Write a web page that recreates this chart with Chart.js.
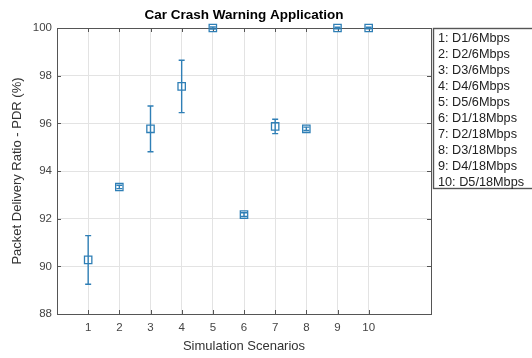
<!DOCTYPE html>
<html>
<head>
<meta charset="utf-8">
<script src="https://cdn.jsdelivr.net/npm/chart.js@4"></script>
<style>
  html, body { margin: 0; padding: 0; background: #fff; }
  #wrap { width: 532px; height: 358px; }
</style>
</head>
<body>
<div id="wrap"><canvas id="pdrChart" width="532" height="358"></canvas></div>
<script>
// data
const scenarios = [1, 2, 3, 4, 5, 6, 7, 8, 9, 10];
const pdrMean = [90.27, 93.33, 95.77, 97.55, 100, 92.17, 95.87, 95.77, 100, 100];
const pdrErr = [1.02, 0.07, 0.96, 1.1, 0.04, 0.08, 0.3, 0.07, 0.03, 0.03];
const legendLabels = ['1: D1/6Mbps', '2: D2/6Mbps', '3: D3/6Mbps', '4: D4/6Mbps', '5: D5/6Mbps',
  '6: D1/18Mbps', '7: D2/18Mbps', '8: D3/18Mbps', '9: D4/18Mbps', '10: D5/18Mbps'];
const yTicks = [88, 90, 92, 94, 96, 98, 100];

const blue = '#2f7fb6';
const font = "'Liberation Sans', Arial, sans-serif";

// error bars, axes box, title and the text legend
const extras = {
  id: 'extras',
  beforeDatasetsDraw(chart) {
    const ctx = chart.ctx, x = chart.scales.x, y = chart.scales.y, a = chart.chartArea;
    ctx.save();
    // box
    ctx.strokeStyle = '#555';
    ctx.lineWidth = 1;
    ctx.strokeRect(a.left + 0.5, a.top + 0.5, a.right - a.left, a.bottom - a.top);
    ctx.beginPath();
    scenarios.forEach(s => {
      const px = Math.round(x.getPixelForValue(s)) + 0.5;
      ctx.moveTo(px, a.bottom); ctx.lineTo(px, a.bottom - 4);
      ctx.moveTo(px, a.top); ctx.lineTo(px, a.top + 4);
    });
    yTicks.forEach(v => {
      const py = Math.round(y.getPixelForValue(v)) + 0.5;
      ctx.moveTo(a.left, py); ctx.lineTo(a.left + 4, py);
      ctx.moveTo(a.right, py); ctx.lineTo(a.right - 4, py);
    });
    ctx.stroke();
    ctx.restore();
  },
  afterDatasetsDraw(chart) {
    const ctx = chart.ctx, x = chart.scales.x, y = chart.scales.y, a = chart.chartArea;
    ctx.save();
    ctx.strokeStyle = blue;
    ctx.lineWidth = 1.4;
    scenarios.forEach((s, i) => {
      const px = x.getPixelForValue(s);
      const top = y.getPixelForValue(pdrMean[i] + pdrErr[i]);
      const bot = y.getPixelForValue(pdrMean[i] - pdrErr[i]);
      ctx.beginPath();
      ctx.moveTo(px, top); ctx.lineTo(px, bot);
      ctx.moveTo(px - 3, top); ctx.lineTo(px + 3, top);
      ctx.moveTo(px - 3, bot); ctx.lineTo(px + 3, bot);
      ctx.stroke();
    });

    // title
    ctx.fillStyle = '#000';
    ctx.font = 'bold 13.5px ' + font;
    ctx.textAlign = 'center';
    ctx.textBaseline = 'middle';
    ctx.fillText('Car Crash Warning Application', (a.left + a.right) / 2, 15);

    // legend box
    const lx = a.right + 2, ly = a.top;
    ctx.fillStyle = '#fff';
    ctx.fillRect(lx, ly, 110, 160);
    ctx.strokeStyle = '#555';
    ctx.strokeRect(lx + 0.5, ly + 0.5, 110, 160);
    ctx.fillStyle = '#222';
    ctx.font = '12.7px ' + font;
    ctx.textAlign = 'left';
    legendLabels.forEach((t, i) => ctx.fillText(t, lx + 5, ly + 10 + i * 16.1));
    ctx.restore();
  }
};

new Chart(document.getElementById('pdrChart').getContext('2d'), {
  type: 'scatter',
  data: {
    datasets: [{
      data: scenarios.map((s, i) => ({ x: s, y: pdrMean[i] })),
      pointStyle: 'rect',
      pointRadius: 5.2,
      pointBorderWidth: 1.3,
      borderColor: blue,
      backgroundColor: 'rgba(0,0,0,0)',
      showLine: false,
      clip: false
    }]
  },
  options: {
    responsive: false,
    animation: false,
    layout: { padding: { top: 28, right: 101, left: 6, bottom: 0 } },
    plugins: { legend: { display: false }, title: { display: false }, tooltip: { enabled: false } },
    scales: {
      x: {
        min: 0, max: 12,
        afterBuildTicks: s => { s.ticks = scenarios.map(v => ({ value: v })); },
        afterFit: s => { s.height = 44; },
        grid: { color: '#e3e3e3', drawTicks: false },
        border: { display: false },
        ticks: { color: '#444', font: { family: font, size: 11.5 }, padding: 7, maxRotation: 0 },
        title: { display: true, text: 'Simulation Scenarios', color: '#333', font: { family: font, size: 13 }, padding: { top: 1 } }
      },
      y: {
        min: 88, max: 100,
        afterBuildTicks: s => { s.ticks = yTicks.map(v => ({ value: v })); },
        afterFit: s => { s.width = 51; },
        grid: { color: '#e3e3e3', drawTicks: false },
        border: { display: false },
        ticks: { color: '#444', font: { family: font, size: 11.5 }, padding: 5 },
        title: { display: true, text: 'Packet Delivery Ratio - PDR (%)', color: '#333', font: { family: font, size: 13 }, padding: { bottom: 2 } }
      }
    }
  },
  plugins: [extras]
});
</script>
</body>
</html>
